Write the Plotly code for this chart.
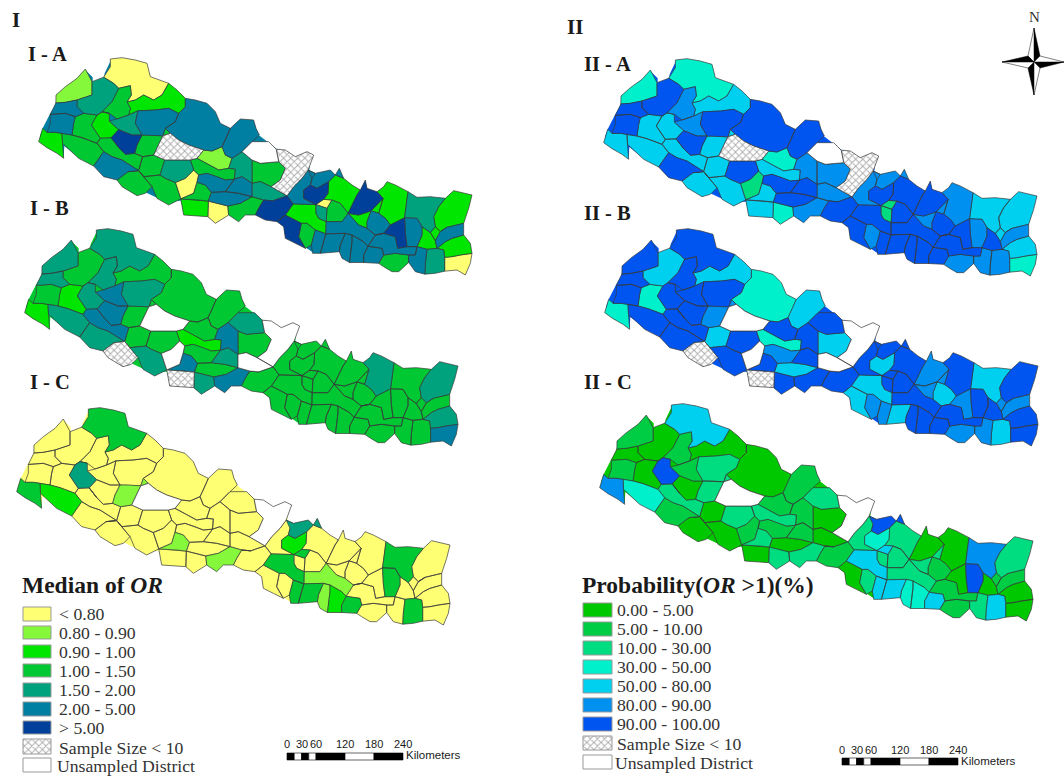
import math
from collections import Counter
import plotly.graph_objects as go

# District outlines in map units (one unit = 1/3 of a reference pixel).
WEST = [
 [(190,72),(215,95),(205,125),(210,150),(165,165),(130,172),(105,170),(102,150),(130,125),(165,100)],
 [(210,110),(245,105),(275,115),(290,135),(270,170),(240,200),(185,205),(165,185),(165,165),(210,150),(205,125)],
 [(265,42),(300,38),(340,45),(375,55),(385,95),(440,115),(420,150),(395,165),(365,150),(340,165),(315,170),(328,150),(325,122),(290,125),(275,115),(245,100),(245,85),(265,65)],
 [(290,125),(325,122),(328,150),(315,172),(325,190),(320,210),(285,222),(262,205),(240,200),(270,170),(290,135)],
 [(315,172),(340,165),(365,150),(395,165),(420,150),(440,115),(465,135),(490,160),(490,185),(470,205),(440,190),(400,195),(350,195),(345,200),(320,210),(325,190)],
 [(490,160),(520,165),(555,175),(580,200),(595,235),(625,250),(610,285),(600,305),(570,318),(545,315),(500,300),(470,285),(445,265),(430,250),(460,230),(470,205),(490,185)],
 [(600,305),(610,285),(625,250),(655,222),(695,225),(702,250),(712,270),(690,290),(660,320),(630,340),(610,330)],
 [(105,172),(130,172),(165,165),(165,185),(185,205),(160,215),(130,205),(95,210),(80,205),(95,180)],
 [(80,210),(95,210),(130,205),(160,215),(155,235),(150,270),(120,265),(100,262),(75,262),(85,235)],
 [(62,250),(75,262),(100,262),(120,265),(118,290),(125,340),(105,325),(75,308),(50,290),(55,270)],
 [(120,265),(150,270),(180,278),(225,295),(245,320),(215,363),(170,340),(125,300),(118,290)],
 [(160,215),(185,205),(240,200),(262,205),(225,210),(208,240),(235,280),(225,295),(180,278),(150,270),(155,235)],
 [(225,210),(262,205),(262,228),(290,248),(265,272),(270,285),(295,310),(285,305),(235,280),(208,240)],
 [(262,228),(285,222),(320,210),(345,200),(340,235),(360,270),(330,270),(290,260),(290,248)],
 [(345,200),(350,195),(400,195),(440,190),(470,205),(460,230),(430,250),(420,265),(385,270),(360,270),(340,235)],
 [(290,260),(330,270),(360,270),(345,300),(338,325),(310,328),(295,310),(270,285),(265,272),(290,248)],
 [(385,270),(420,265),(445,265),(425,280),(395,330),(338,325),(345,300),(360,270)],
 [(395,330),(425,280),(445,265),(470,285),(500,300),(545,315),(525,340),(505,345),(470,345),(428,345)],
 [(245,320),(270,335),(300,345),(345,370),(318,380),(285,405),(245,395),(215,363)],
 [(235,280),(285,305),(295,310),(310,328),(338,325),(362,335),(360,375),(345,370),(300,345),(270,335),(245,320),(225,295)],
 [(285,405),(318,380),(345,385),(390,425),(370,445),(345,452),(300,425)],
 [(362,335),(395,330),(428,345),(418,385),(410,395),(365,395),(345,385),(318,380),(345,370),(360,375)],
 [(428,345),(470,345),(505,345),(515,375),(490,400),(460,405),(430,400),(418,385)],
 [(365,395),(410,395),(430,400),(460,405),(460,420),(480,450),(465,470),(440,480),(405,460),(390,425),(345,385)],
 [(460,405),(490,400),(515,375),(530,390),(525,412),(515,445),(480,450),(460,420)],
 [(505,345),(525,340),(590,375),(620,370),(640,372),(640,395),(635,410),(610,405),(585,395),(555,385),(530,390),(515,375)],
 [(545,315),(570,318),(600,305),(610,330),(630,340),(620,370),(590,375),(525,340)],
 [(475,465),(485,462),(530,465),(555,470),(555,510),(485,510)],
 [(557,470),(620,478),(615,488),(620,510),(580,535),(560,520)],
 [(485,462),(515,445),(525,412),(550,420),(568,442),(565,465),(530,465)],
 [(568,442),(610,440),(650,445),(690,455),(655,475),(620,478),(565,465)],
 [(615,488),(655,475),(690,455),(725,465),(750,475),(710,490),(700,510),(670,510),(650,530),(620,510)],
 [(530,390),(555,385),(585,395),(610,405),(635,410),(610,440),(568,442),(550,420),(525,412)],
 [(640,395),(660,395),(690,415),(690,455),(650,445),(610,440),(635,410)],
 [(630,340),(660,320),(690,345),(690,415),(660,395),(640,395),(640,372),(620,370)],
 [(660,320),(690,290),(740,290),(765,315),(770,350),(715,355),(690,345)],
 [(690,345),(715,355),(770,350),(790,370),(775,405),(745,420),(715,410),(690,415)],
 [(690,415),(715,410),(745,420),(750,430),(775,440),(790,455),(755,460),(750,475),(725,465),(690,455)],
]
# Eastern districts, read on a second sheet whose origin is at (690, 225) map units.
EAST_SHEET_ORIGIN = (690, 225)
EAST = [
 [(70,85),(100,90),(130,110),(165,95),(185,105),(175,130),(165,150),(150,175),(125,200),(110,225),(100,230),(85,215),(60,205),(55,195),(85,180),(100,145),(80,125),(75,90)],
 [(172,150),(190,160),(235,150),(250,165),(262,145),(275,175),(235,180),(225,190),(195,205),(175,195),(180,175),(165,150)],
 [(175,195),(195,205),(225,190),(228,220),(215,238),(185,240),(155,235),(155,210)],
 [(165,150),(180,175),(175,195),(155,210),(155,235),(185,240),(185,255),(135,255),(115,245),(100,230),(110,225),(125,200),(150,175)],
 [(225,190),(235,180),(275,175),(300,195),(315,225),(290,265),(265,250),(240,240),(215,238),(228,220)],
 [(185,240),(215,238),(240,240),(225,265),(205,260),(192,260),(185,255)],
 [(192,260),(205,260),(225,265),(220,300),(200,295),(192,280)],
 [(240,240),(265,250),(290,265),(285,280),(290,295),(270,305),(225,310),(220,300),(225,265)],
 [(225,310),(270,305),(290,295),(320,315),(345,325),(370,345),(360,372),(335,365),(300,345),(280,340),(228,338)],
 [(100,285),(120,255),(185,255),(192,280),(200,295),(220,300),(225,310),(228,338),(190,330),(165,310),(125,298)],
 [(100,230),(115,245),(135,255),(120,255),(100,285),(75,305),(40,300),(10,285),(20,265),(60,250),(65,235)],
 [(75,305),(100,285),(125,298),(148,310),(140,350),(160,385),(130,370),(100,355),(95,320)],
 [(148,310),(165,310),(190,330),(178,375),(160,385),(140,350)],
 [(190,330),(228,338),(215,345),(205,400),(182,400),(178,375)],
 [(215,345),(228,338),(280,340),(265,375),(262,395),(205,400)],
 [(280,340),(300,345),(300,365),(295,425),(270,415),(265,375)],
 [(300,345),(335,365),(350,380),(335,405),(335,425),(290,430),(295,425),(300,365)],
 [(335,385),(390,385),(395,405),(380,430),(335,430),(335,405)],
 [(395,405),(430,400),(470,405),(475,425),(465,430),(440,455),(420,455),(395,440),(380,430)],
 [(370,345),(400,345),(430,350),(437,385),(465,380),(495,380),(490,405),(470,405),(430,400),(395,405),(390,385),(350,380),(360,372)],
 [(345,305),(360,280),(380,280),(400,295),(415,315),(390,335),(370,345),(345,325)],
 [(415,315),(445,295),(460,295),(460,340),(465,380),(437,385),(430,350),(400,345),(370,345),(390,335)],
 [(290,265),(320,285),(355,265),(385,235),(400,240),(380,280),(360,280),(345,305),(345,325),(320,315),(290,295),(285,280)],
 [(315,225),(325,210),(340,180),(345,205),(375,215),(395,230),(385,235),(355,265),(320,285),(290,265)],
 [(395,200),(405,185),(430,195),(468,215),(468,290),(460,295),(445,295),(415,315),(400,295),(380,280),(400,240),(395,230),(375,215)],
 [(468,215),(495,232),(535,230),(580,235),(560,260),(545,290),(550,320),(535,335),(510,320),(495,295),(468,290)],
 [(460,295),(468,290),(495,295),(510,320),(510,345),(495,380),(465,380),(460,340)],
 [(605,212),(660,225),(650,265),(635,310),(585,322),(550,320),(545,290),(560,260),(580,235)],
 [(535,335),(550,320),(585,322),(565,335),(550,362),(535,340)],
 [(585,322),(635,310),(635,345),(600,355),(580,365),(555,385),(550,362),(565,335)],
 [(510,320),(535,335),(535,340),(550,362),(555,385),(525,388),(495,380),(510,345)],
 [(525,388),(555,385),(575,390),(578,455),(550,460),(525,465),(512,460),(520,430)],
 [(495,380),(525,388),(520,430),(512,460),(490,455),(475,425),(470,405),(490,405)],
 [(555,385),(580,365),(600,355),(635,345),(655,370),(660,400),(625,405),(600,410),(578,412),(575,390)],
 [(578,412),(600,410),(625,405),(660,400),(655,430),(640,465),(615,450),(578,452)],
]
# National outline, same map units; it sits beneath the districts.
COUNTRY = [(55,270),(62,250),(85,205),(100,180),(105,150),(130,128),(165,103),(190,75),(212,97),(212,112),(245,103),(248,85),
 (267,45),(373,58),(383,97),(438,118),(488,163),(553,178),(593,238),(625,253),(655,225),(693,228),(710,270),(740,293),
 (765,313),(790,318),(820,337),(855,322),(872,332),(863,358),(862,378),(880,388),(925,378),(940,392),(952,373),(963,402),
 (988,422),(1005,447),(1017,435),(1030,410),(1036,432),(1065,442),(1085,427),(1095,413),(1120,423),(1158,443),(1185,460),
 (1225,458),(1270,462),(1295,440),(1347,453),(1337,490),(1323,535),(1323,570),(1343,595),(1347,625),(1343,655),(1328,687),
 (1305,672),(1268,677),(1240,682),(1215,687),(1202,682),(1180,677),(1165,648),(1155,653),(1130,677),(1110,677),(1085,662),
 (1070,652),(1025,652),(985,647),(960,637),(952,617),(895,622),(872,622),(850,607),(820,592),(790,577),(785,545),(765,527),
 (700,508),(670,508),(650,527),(620,508),(580,532),(560,518),(555,507),(487,507),(477,467),(465,467),(440,477),(405,458),
 (370,442),(345,449),(300,422),(285,402),(245,392),(215,360),(170,337),(127,303),(125,335),(105,322),(75,305),(53,290)]

# Class of each district in each panel (0-6 are legend classes, 7 = sample size < 10, 8 = unsampled).
I_A  = [1,4,0,3,2,5,5,5,5,2,3,3,2,4,5,6,3,7,5,3,3,3,4,3,0,3,1,2,0,3,5,3,5,5,4,8,3,4,
        7,5,6,5,2,0,4,3,5,2,6,6,3,5,5,5,5,5,3,5,5,6,2,6,2,4,5,2,2,5,2,4,5,2,0]
I_B  = [4,3,4,4,3,3,3,4,3,2,4,2,4,5,4,5,3,8,4,5,7,3,3,4,8,2,3,7,4,5,3,5,3,4,5,4,3,8,
        8,3,3,3,3,3,3,3,3,3,3,3,3,3,3,3,3,3,3,3,3,3,3,3,4,3,3,4,3,3,3,3,3,4,5]
I_C  = [0,0,3,0,0,0,0,0,0,3,2,0,4,0,0,0,1,8,0,0,0,0,0,0,0,0,0,0,0,1,0,1,0,0,0,0,0,0,
        8,4,2,0,0,3,0,0,1,3,0,0,0,3,3,1,2,3,0,0,0,0,0,0,0,3,3,0,0,0,0,3,0,0,0]
II_A = [3,6,3,5,4,6,6,6,6,4,4,4,4,5,6,6,4,7,6,4,4,4,6,4,2,4,3,4,3,4,6,5,6,6,5,8,5,5,
        7,5,6,5,6,2,2,6,6,6,6,6,5,6,6,6,6,6,5,6,6,6,5,6,5,4,5,4,4,5,6,5,5,4,3]
II_B = [6,4,6,6,4,3,4,6,6,3,6,3,6,6,6,6,5,8,6,6,7,4,6,6,8,3,6,7,6,6,4,6,5,6,6,6,4,8,
        8,6,4,6,6,6,6,6,6,4,6,4,5,5,4,6,6,6,5,6,4,5,5,5,6,4,6,6,5,5,6,4,5,6,6]
II_C = [1,0,4,1,0,0,1,0,1,5,3,0,6,1,2,0,2,8,1,2,0,0,2,0,1,2,1,0,2,2,0,2,1,1,1,2,0,0,
        8,6,3,2,2,4,2,2,2,4,1,0,2,4,4,3,3,4,1,1,1,0,2,0,0,5,6,2,1,1,0,4,2,0,0]

PANELS = [("I - A", I_A, 22, -350), ("I - B", I_B, 8, -179), ("I - C", I_C, 0, 0),
          ("II - A", II_A, 587, -349), ("II - B", II_B, 588, -179), ("II - C", II_C, 583, -4)]

LABELS_I = ["< 0.80", "0.80 - 0.90", "0.90 - 1.00", "1.00 - 1.50", "1.50 - 2.00", "2.00 - 5.00", "> 5.00"]
COLORS_I = ["#FFFF73", "#85F83C", "#00E600", "#00C832", "#00A27E", "#007FA3", "#00409A"]
LABELS_II = ["0.00 - 5.00", "5.00 - 10.00", "10.00 - 30.00", "30.00 - 50.00", "50.00 - 80.00", "80.00 - 90.00", "90.00 - 100.00"]
COLORS_II = ["#00C800", "#00CC44", "#00DC80", "#00F0CC", "#00D0F0", "#0090F0", "#0055F0"]
SCALE_KM = [0, 30, 60, 120, 180, 240]
SCALE_CUTS = [0, 15, 30, 45, 60, 120, 180, 240]

W, H = 1064, 778
SERIF = "Liberation Serif"
SANS = "Liberation Sans"
PANEL_W, PANEL_H = 470, 262
LINE = "#3a3a3a"
SNAP = 16
HATCH = dict(shape="x", size=5, solidity=0.35, fgcolor="#5a5a5a", bgcolor="white")


def weld(polys, tol):
    """Close digitising slivers so that neighbouring districts share their borders."""
    polys = [list(map(tuple, p)) for p in polys]
    out = []
    for i, p in enumerate(polys):
        q = []
        for j, a in enumerate(p):
            b = p[(j + 1) % len(p)]
            ex, ey = b[0] - a[0], b[1] - a[1]
            L2 = ex * ex + ey * ey or 1
            hits = []
            for k, other in enumerate(polys):
                if k == i:
                    continue
                for v in other:
                    t = ((v[0] - a[0]) * ex + (v[1] - a[1]) * ey) / L2
                    if t <= 0 or t >= 1:
                        continue
                    d = math.hypot(a[0] + t * ex - v[0], a[1] + t * ey - v[1])
                    if d < tol and t * math.sqrt(L2) > tol / 2 and (1 - t) * math.sqrt(L2) > tol / 2:
                        hits.append((t, v))
            q.append(a)
            q += [v for _, v in sorted(hits)]
        out.append(q)
    pts = sorted({v for p in out for v in p})
    parent = {v: v for v in pts}

    def find(v):
        while parent[v] != v:
            parent[v] = parent[parent[v]]
            v = parent[v]
        return v

    for i, a in enumerate(pts):
        for b in pts[i + 1:]:
            if b[0] - a[0] > tol:
                break
            if math.hypot(a[0] - b[0], a[1] - b[1]) < tol:
                parent[find(a)] = find(b)
    groups = {}
    for v in pts:
        groups.setdefault(find(v), []).append(v)
    centre = {r: (sum(v[0] for v in g) / len(g), sum(v[1] for v in g) / len(g)) for r, g in groups.items()}
    res = []
    for p in out:
        q = []
        for v in p:
            c = centre[find(v)]
            if not q or q[-1] != c:
                q.append(c)
        res.append(q)
    return res


polygons = WEST + [[(x + EAST_SHEET_ORIGIN[0], y + EAST_SHEET_ORIGIN[1]) for x, y in p] for p in EAST]
polygons = weld(weld(polygons, SNAP), SNAP)

fig = go.Figure()
layout = dict(width=W, height=H, margin=dict(l=0, r=0, t=0, b=0), paper_bgcolor="white",
              plot_bgcolor="rgba(0,0,0,0)", showlegend=False, font=dict(family=SERIF))


def add_class(xa, ya, polys, color=None, hatch=False, width=0.7):
    xs, ys = [], []
    for p in polys:
        xs += [q[0] for q in p] + [p[0][0], None]
        ys += [q[1] for q in p] + [p[0][1], None]
    kw = dict(fillcolor=color or "white")
    if hatch:
        kw["fillpattern"] = HATCH
    fig.add_trace(go.Scatter(x=xs, y=ys, mode="lines", fill="toself", xaxis=xa, yaxis=ya,
                             line=dict(color=LINE, width=width), hoverinfo="skip", **kw))


for i, (name, classes, dx, dy) in enumerate(PANELS):
    n = i + 1
    suffix = "" if n == 1 else str(n)
    top = 395 + dy
    layout["xaxis" + suffix] = dict(domain=[dx / W, (dx + PANEL_W) / W], range=[0, PANEL_W * 3], visible=False)
    layout["yaxis" + suffix] = dict(domain=[max(0, 1 - (top + PANEL_H) / H), 1 - top / H],
                                    range=[PANEL_H * 3, 0], visible=False)
    palette = COLORS_I if name.startswith("I -") else COLORS_II
    dominant = Counter(k for k in classes if k < 7).most_common(1)[0][0]
    add_class("x" + suffix, "y" + suffix, [COUNTRY], palette[dominant], width=0)
    for c in range(9):
        polys = [p for p, k in zip(polygons, classes) if k == c]
        if polys:
            add_class("x" + suffix, "y" + suffix, polys, palette[c] if c < 7 else None, hatch=c == 7)

# Page-wide axis in reference pixels for legends, scale bars, compass.
layout["xaxis7"] = dict(domain=[0, 1], range=[0, W], visible=False)
layout["yaxis7"] = dict(domain=[0, 1], range=[H, 0], visible=False)
ann = []


def text(x, y, s, size, family=SERIF, color="#1a1a1a", anchor="left"):
    ann.append(dict(x=x, y=y, xref="x7", yref="y7", text=s, showarrow=False, xanchor=anchor, yanchor="middle",
                    font=dict(family=family, size=size, color=color)))


def poly_page(pts, fill, line="#999999", width=1, pattern=None):
    kw = {}
    if pattern:
        kw["fillpattern"] = pattern
    fig.add_trace(go.Scatter(x=[p[0] for p in pts] + [pts[0][0]], y=[p[1] for p in pts] + [pts[0][1]],
                             mode="lines", fill="toself", fillcolor=fill, xaxis="x7", yaxis="y7",
                             line=dict(color=line, width=width), hoverinfo="skip", **kw))


def legend(x0, x1, rows, colors, labels, tx, title, title_y):
    text(x0 - 3, title_y, "<b>" + title + "</b>", 23.5)
    for (y0, y1), c, l in zip(rows, colors, labels):
        poly_page([(x0, y0), (x1, y0), (x1, y1), (x0, y1)], c)
        text(tx - 2, (y0 + y1) / 2, l, 17.7, color="#333333")
    y0, y1 = rows[7]
    poly_page([(x0, y0), (x1, y0), (x1, y1), (x0, y1)], "white", pattern=HATCH)
    text(tx - 2, (y0 + y1) / 2 + 1, "Sample Size < 10", 17.7, color="#333333")
    y0, y1 = rows[8]
    poly_page([(x0, y0), (x1, y0), (x1, y1), (x0, y1)], "white")
    text(tx - 4, (y0 + y1) / 2 + 1, "Unsampled District", 17.7, color="#333333")


ROWS_I = [(607, 621), (626, 639), (645, 658), (664, 677), (683, 697), (702, 716), (721, 734), (739, 754), (758, 772)]
ROWS_II = [(603, 617), (622, 636), (641, 655), (660, 674), (679, 693), (698, 712), (717, 731), (736, 750), (755, 769)]
legend(23, 51, ROWS_I, COLORS_I, LABELS_I, 59, "Median of <i>OR</i>", 585)
legend(583, 612, ROWS_II, COLORS_II, LABELS_II, 617, "Probability(<i>OR</i> &gt;1)(%)", 585)


def scale(x0, x1, y0, y1, label_y, km_x, km_y):
    f = (x1 - x0) / SCALE_KM[-1]
    for i in range(len(SCALE_CUTS) - 1):
        a, b = x0 + SCALE_CUTS[i] * f, x0 + SCALE_CUTS[i + 1] * f
        poly_page([(a, y0), (b, y0), (b, y1), (a, y1)], "black" if i % 2 == 0 else "white", line="black", width=0.6)
    for k in SCALE_KM:
        text(x0 + k * f, label_y, str(k), 11, family=SANS, anchor="center")
    text(km_x, km_y, "Kilometers", 11.5, family=SANS)


scale(287, 403, 753, 760, 744, 404, 755)
scale(842, 958, 758, 765, 750, 959, 761)

# Compass
cx, cy, r_n, r_s, r_w, r_e, q = 1034, 62, 34, 33, 32, 30, 6
arms = [((cx, cy - r_n), (cx + q, cy - q), (cx - q, cy - q), "black", "white"),
        ((cx + r_e, cy), (cx + q, cy + q), (cx + q, cy - q), "black", "white"),
        ((cx, cy + r_s), (cx - q, cy + q), (cx + q, cy + q), "black", "white"),
        ((cx - r_w, cy), (cx - q, cy - q), (cx - q, cy + q), "black", "white")]
for tip, a, b, c1, c2 in arms:
    poly_page([tip, a, (cx, cy)], c1, line="black", width=0.5)
    poly_page([tip, b, (cx, cy)], c2, line="black", width=0.5)
text(cx, 17, "N", 15, anchor="center", color="#333333")

# Panel titles
text(10, 20, "<b>I</b>", 21)
text(565, 27, "<b>II</b>", 21)
for s, x, y in [("I - A", 26, 54), ("I - B", 28, 208), ("I - C", 28, 382),
                ("II - A", 582, 64), ("II - B", 582, 213), ("II - C", 582, 382)]:
    text(x, y, "<b>" + s + "</b>", 20.5)

layout["annotations"] = ann
fig.update_layout(**layout)
fig.write_html("out.html", post_script="document.body.style.margin='0';", config={"displayModeBar": False})
